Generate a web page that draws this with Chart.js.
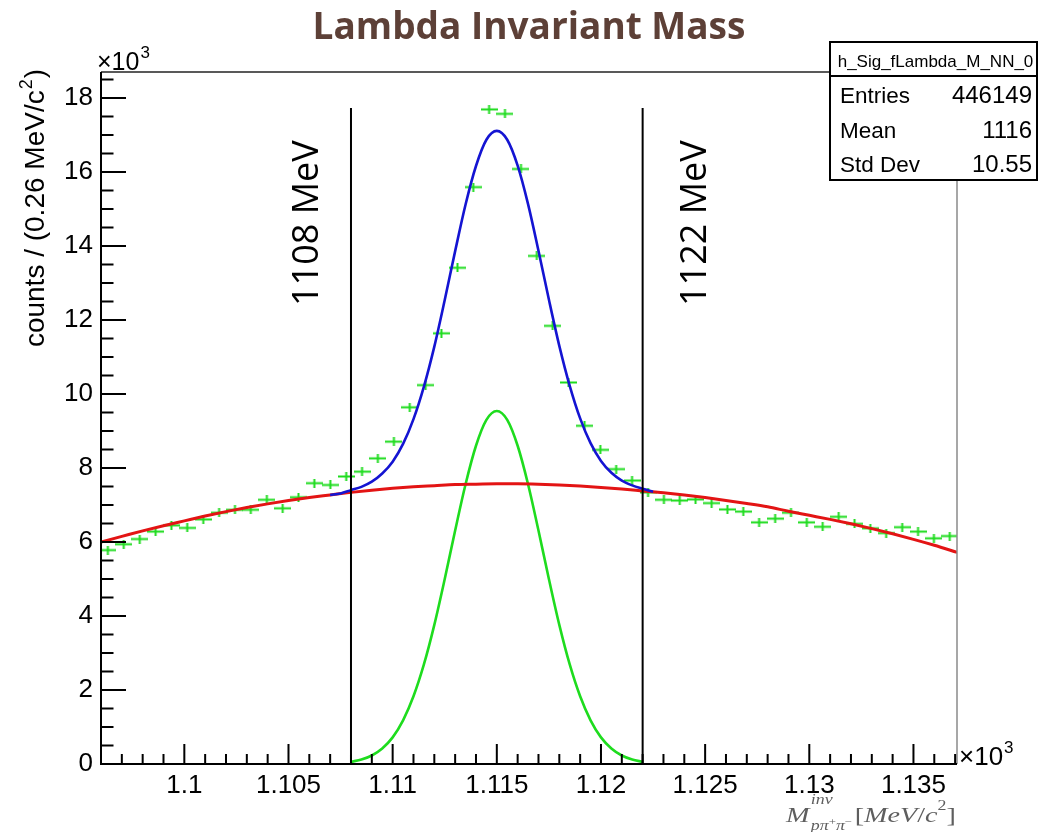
<!DOCTYPE html>
<html>
<head>
<meta charset="utf-8">
<script src="https://cdn.jsdelivr.net/npm/chart.js@4.4.1/dist/chart.umd.min.js"></script>
<style>
  html, body { margin: 0; padding: 0; background: #fff; }
  #wrap { width: 1040px; height: 832px; }
</style>
</head>
<body>
<div id="wrap"><canvas id="c" width="1040" height="832"></canvas></div>
<script>
// Histogram h_Sig_fLambda_M_NN_0: bin centres (MeV/c^2) and bin contents
const binCenters = [
  1096.33, 1097.09, 1097.86, 1098.62, 1099.38, 1100.14, 1100.91, 1101.67, 1102.43, 1103.19,
  1103.96, 1104.72, 1105.48, 1106.24, 1107.01, 1107.77, 1108.53, 1109.29, 1110.06, 1110.82,
  1111.58, 1112.34, 1113.11, 1113.87, 1114.63, 1115.39, 1116.16, 1116.92, 1117.68, 1118.44,
  1119.21, 1119.97, 1120.73, 1121.49, 1122.26, 1123.02, 1123.78, 1124.54, 1125.31, 1126.07,
  1126.83, 1127.59, 1128.36, 1129.12, 1129.88, 1130.64, 1131.41, 1132.17, 1132.93, 1133.69,
  1134.46, 1135.22, 1135.98, 1136.74
];
const binCounts = [
  5780, 5940, 6080, 6280, 6450, 6380, 6610, 6790, 6870, 6870,
  7140, 6910, 7210, 7590, 7540, 7770, 7900, 8260, 8710, 9640,
  10240, 11640, 13410, 15590, 17690, 17570, 16080, 13730, 11840, 10310,
  9140, 8490, 7970, 7660, 7340, 7140, 7120, 7150, 7050, 6880,
  6820, 6530, 6630, 6790, 6530, 6410, 6680, 6490, 6370, 6240,
  6400, 6280, 6100, 6160
];
const binWidth = 0.7625;

// Background polynomial (red)
const bgX = [
  1096, 1097, 1098, 1099, 1100, 1101, 1102, 1103, 1104, 1105, 1106, 1107, 1108, 1109,
  1110, 1111, 1112, 1113, 1114, 1115, 1116, 1117, 1118, 1119, 1120, 1121, 1122, 1123,
  1124, 1125, 1126, 1127, 1128, 1129, 1130, 1131, 1132, 1133, 1134, 1135, 1136, 1137.1
];
const bgY = [
  6000, 6150, 6300, 6440, 6570, 6700, 6820, 6930, 7030, 7120, 7200, 7270, 7340, 7400,
  7450, 7490, 7520, 7550, 7560, 7570, 7570, 7560, 7540, 7510, 7470, 7430, 7380, 7330,
  7270, 7200, 7120, 7040, 6950, 6830, 6720, 6610, 6490, 6360, 6220, 6070, 5910, 5720
];

// Signal gaussian (green), fitted between the two cuts
const sigX = [
  1108.0, 1108.5, 1109.0, 1109.5, 1110.0, 1110.5, 1111.0, 1111.5, 1112.0, 1112.5,
  1113.0, 1113.5, 1114.0, 1114.5, 1115.0, 1115.5, 1116.0, 1116.5, 1117.0, 1117.5,
  1118.0, 1118.5, 1119.0, 1119.5, 1120.0, 1120.5, 1121.0, 1121.5, 1122.0
];
const sigY = [
  60, 120, 230, 420, 720, 1180, 1830, 2690, 3760, 5000,
  6310, 7560, 8600, 9300, 9540, 9300, 8600, 7560, 6310, 5000,
  3760, 2690, 1830, 1180, 720, 420, 230, 120, 60
];

// Total fit, signal + background (blue)
const totX = [
  1107.0, 1107.5, 1108.0, 1108.5, 1109.0, 1109.5, 1110.0, 1110.5, 1111.0, 1111.5,
  1112.0, 1112.5, 1113.0, 1113.5, 1114.0, 1114.5, 1115.0, 1115.5, 1116.0, 1116.5,
  1117.0, 1117.5, 1118.0, 1118.5, 1119.0, 1119.5, 1120.0, 1120.5, 1121.0, 1121.5,
  1122.0, 1122.5
];
const totY = [
  7270, 7310, 7400, 7490, 7630, 7850, 8170, 8650, 9320, 10200,
  11280, 12540, 13860, 15120, 16160, 16870, 17110, 16870, 16170, 15130,
  13870, 12550, 11300, 10220, 9340, 8670, 8190, 7870, 7660, 7530,
  7440, 7360
];

// Mass window cuts
const cutValues = [1108, 1122];
const cutLabels = ['1108 MeV', '1122 MeV'];
const cutTop = 17730;

// Axis ticks
const xTickValues = [1100, 1105, 1110, 1115, 1120, 1125, 1130, 1135];
const yTickValues = [0, 2000, 4000, 6000, 8000, 10000, 12000, 14000, 16000, 18000];
const xRange = [1096, 1137.09];
const yRange = [0, 18700];

// Statistics box
const statsTitle = 'h_Sig_fLambda_M_NN_0';
const statsRows = [['Entries', '446149'], ['Mean', '1116'], ['Std Dev', '10.55']];

const chartTitle = 'Lambda Invariant Mass';
const yTitle = 'counts / (0.26 MeV/c';

const GREEN = '#1edc1e';
const SANS = '"Liberation Sans", Arial, sans-serif';
const SERIF = '"Liberation Serif", "DejaVu Serif", serif';

// Marker: horizontal bar spans the bin, short vertical bar
function makeCross() {
  const halfW = Math.round(binWidth / (xRange[1] - xRange[0]) * 856 / 2);
  const cv = document.createElement('canvas');
  cv.width = halfW * 2 + 1;
  cv.height = 9;
  const g = cv.getContext('2d');
  g.fillStyle = GREEN;
  g.fillRect(0, 3.5, cv.width, 2);
  g.fillRect(halfW - 0.5, 0, 2, 9);
  return cv;
}

const pts = (xs, ys) => xs.map((v, i) => ({ x: v, y: ys[i] }));

// x-axis title typeset like a TLatex string: M^{inv}_{p pi+ pi-} [MeV/c^2]
function drawMassTitle(ctx) {
  ctx.save();
  ctx.fillStyle = '#5e5e5e';
  ctx.textAlign = 'left';
  ctx.translate(786, 0);
  ctx.scale(1.28, 1);
  let cx = 0;
  const put = (t, y, font, adv = true) => {
    ctx.font = font; ctx.fillText(t, cx, y);
    const w = ctx.measureText(t).width;
    if (adv) cx += w;
    return w;
  };
  const it = 'italic 22px ' + SERIF, rm = '22px ' + SERIF;
  const sIt = 'italic 14px ' + SERIF, tiny = '10px ' + SERIF;
  put('M', 822, it);
  cx += 1;
  const start = cx;
  put('inv', 804, sIt, false);
  put('p\u03c0', 830, sIt);
  put('+', 825, tiny);
  put('\u03c0', 830, sIt);
  put('\u2212', 825, tiny);
  cx = Math.max(cx, start) + 2;
  put('[', 822, rm);
  put('MeV', 822, it);
  put('/', 822, rm);
  put('c', 822, it);
  put('2', 810, '14px ' + SERIF);
  put(']', 822, rm);
  ctx.restore();
}

const decor = {
  id: 'rootDecor',
  afterDraw(chart) {
    const { ctx, chartArea: a, scales: { x, y } } = chart;
    ctx.save();

    // Frame
    ctx.lineWidth = 1.5;
    ctx.strokeStyle = '#222';
    ctx.beginPath(); ctx.moveTo(a.left, a.top); ctx.lineTo(a.right, a.top); ctx.stroke();
    ctx.strokeStyle = '#8a8a8a';
    ctx.beginPath(); ctx.moveTo(a.right, a.top); ctx.lineTo(a.right, a.bottom); ctx.stroke();
    ctx.strokeStyle = '#000';
    ctx.lineWidth = 2;
    ctx.beginPath(); ctx.moveTo(a.left, a.top); ctx.lineTo(a.left, a.bottom); ctx.lineTo(a.right, a.bottom); ctx.stroke();

    // Inward major / minor ticks
    ctx.beginPath();
    for (let v = Math.ceil(xRange[0]); v <= xRange[1]; v += 1) {
      const px = x.getPixelForValue(v);
      const len = xTickValues.includes(v) ? 20 : 10;
      ctx.moveTo(px, a.bottom); ctx.lineTo(px, a.bottom - len);
    }
    for (let v = yRange[0]; v <= yRange[1]; v += 500) {
      const py = y.getPixelForValue(v);
      const len = yTickValues.includes(v) ? 25 : 12.5;
      ctx.moveTo(a.left, py); ctx.lineTo(a.left + len, py);
    }
    ctx.stroke();

    // Exponent labels
    ctx.fillStyle = '#000';
    ctx.textBaseline = 'alphabetic';
    ctx.textAlign = 'left';
    ctx.font = '25px ' + SANS;
    ctx.fillText('\u00d710', 97, 70);
    let w = ctx.measureText('\u00d710').width;
    ctx.font = '17px ' + SANS;
    ctx.fillText('3', 97 + w + 1, 58);
    ctx.font = '26px ' + SANS;
    ctx.fillText('\u00d710', a.right + 2, a.bottom + 1);
    w = ctx.measureText('\u00d710').width;
    ctx.font = '17px ' + SANS;
    ctx.fillText('3', a.right + 2 + w + 1, a.bottom - 11);

    // Y title
    ctx.save();
    ctx.translate(44, a.top - 3);
    ctx.rotate(-Math.PI / 2);
    ctx.textAlign = 'right';
    ctx.font = '28px ' + SANS;
    const wTail = ctx.measureText(')').width;
    ctx.fillText(')', 0, 0);
    ctx.font = '18px ' + SANS;
    const wSup = ctx.measureText('2').width;
    ctx.fillText('2', -wTail - 1, -12);
    ctx.font = '28px ' + SANS;
    ctx.fillText(yTitle, -wTail - wSup - 2, 0);
    ctx.restore();

    drawMassTitle(ctx);

    // Cut labels
    ctx.fillStyle = '#000';
    ctx.font = '36px "Open Sans", sans-serif';
    const offs = [-33, 63];
    cutValues.forEach((v, i) => {
      ctx.save();
      ctx.translate(x.getPixelForValue(v) + offs[i], 306);
      ctx.rotate(-Math.PI / 2);
      ctx.textAlign = 'left';
      ctx.fillText(cutLabels[i], 0, 0);
      ctx.restore();
    });

    // Statistics box
    const bx = 830, by = 42, bw = 207, bh = 138, hh = 34;
    ctx.fillStyle = '#fff';
    ctx.fillRect(bx, by, bw, bh);
    ctx.strokeStyle = '#000';
    ctx.lineWidth = 2;
    ctx.strokeRect(bx, by, bw, bh);
    ctx.beginPath(); ctx.moveTo(bx, by + hh); ctx.lineTo(bx + bw, by + hh); ctx.stroke();
    ctx.fillStyle = '#000';
    ctx.font = '17px ' + SANS;
    ctx.textAlign = 'center';
    ctx.fillText(statsTitle, bx + bw / 2 + 2, by + 25);
    statsRows.forEach((r, i) => {
      const base = 103 + i * 34.5;
      ctx.font = '22.5px ' + SANS;
      ctx.textAlign = 'left';
      ctx.fillText(r[0], 840, base);
      ctx.font = '24px ' + SANS;
      ctx.textAlign = 'right';
      ctx.fillText(r[1], 1032, base);
    });

    // Title
    ctx.fillStyle = '#5d4037';
    ctx.textAlign = 'center';
    ctx.font = 'bold 37px "Open Sans", sans-serif';
    ctx.fillText(chartTitle, 529, 39);

    ctx.restore();
  }
};

new Chart(document.getElementById('c'), {
  type: 'scatter',
  data: {
    datasets: [
      {
        label: 'cuts-low', type: 'line', order: 1,
        data: [{ x: cutValues[0], y: 0 }, { x: cutValues[0], y: cutTop }],
        borderColor: '#000', borderWidth: 2, pointRadius: 0, fill: false
      },
      {
        label: 'cuts-high', type: 'line', order: 1,
        data: [{ x: cutValues[1], y: 0 }, { x: cutValues[1], y: cutTop }],
        borderColor: '#000', borderWidth: 2, pointRadius: 0, fill: false
      },
      {
        label: 'total', type: 'line', order: 2,
        data: pts(totX, totY),
        borderColor: '#1414d2', borderWidth: 2.6, pointRadius: 0,
        cubicInterpolationMode: 'monotone', fill: false
      },
      {
        label: 'background', type: 'line', order: 3,
        data: pts(bgX, bgY),
        borderColor: '#e31414', borderWidth: 3, pointRadius: 0,
        cubicInterpolationMode: 'monotone', fill: false
      },
      {
        label: 'signal', type: 'line', order: 4,
        data: pts(sigX, sigY),
        borderColor: GREEN, borderWidth: 2.6, pointRadius: 0,
        cubicInterpolationMode: 'monotone', fill: false
      },
      {
        label: 'data', order: 5,
        data: pts(binCenters, binCounts),
        pointStyle: makeCross(), pointRadius: 8, showLine: false
      }
    ]
  },
  options: {
    responsive: false,
    animation: false,
    events: [],
    devicePixelRatio: 1,
    layout: { padding: { left: 0, top: 72, right: 83, bottom: 0 } },
    plugins: { legend: { display: false }, title: { display: false }, tooltip: { enabled: false } },
    scales: {
      x: {
        type: 'linear', min: xRange[0], max: xRange[1],
        afterFit: s => { s.height = 68; },
        afterBuildTicks: s => { s.ticks = xTickValues.map(v => ({ value: v })); },
        grid: { display: false, drawTicks: false },
        border: { display: false },
        ticks: {
          padding: 6, color: '#000', maxRotation: 0, autoSkip: false,
          font: { family: SANS, size: 26 },
          callback: v => String(+(v / 1000).toFixed(3))
        }
      },
      y: {
        type: 'linear', min: yRange[0], max: yRange[1],
        afterFit: s => { s.width = 101; },
        afterBuildTicks: s => { s.ticks = yTickValues.map(v => ({ value: v })); },
        grid: { display: false, drawTicks: false },
        border: { display: false },
        ticks: {
          padding: 8, color: '#000', autoSkip: false,
          font: { family: SANS, size: 26 },
          callback: v => String(v / 1000)
        }
      }
    }
  },
  plugins: [decor]
});
</script>
</body>
</html>
